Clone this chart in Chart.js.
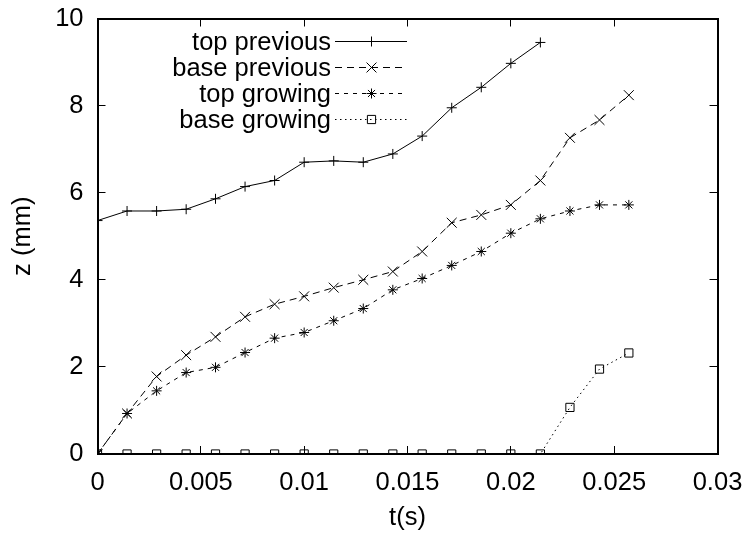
<!DOCTYPE html>
<html>
<head>
<meta charset="utf-8">
<script src="https://cdn.jsdelivr.net/npm/chart.js@4"></script>
<style>
  body { margin: 0; background: #fff; }
  canvas { display: block; }
</style>
</head>
<body>
<canvas id="zChart" width="747" height="537"></canvas>
<script>
// tempos (s) de cada quadro
const tempos = [0, 0.00143, 0.00286, 0.00429, 0.00571, 0.00714, 0.00857, 0.01, 0.01143, 0.01286,
                0.01429, 0.01571, 0.01714, 0.01857, 0.02, 0.02143, 0.02286, 0.02429, 0.02571];

// posições z (mm)
const topPrevious  = [5.36, 5.58, 5.58, 5.62, 5.86, 6.14, 6.28, 6.70, 6.73, 6.70, 6.89, 7.30, 7.95, 8.42, 8.97, 9.45];
const basePrevious = [0, 0.93, 1.78, 2.27, 2.69, 3.15, 3.44, 3.62, 3.82, 4.00, 4.19, 4.65, 5.31, 5.49, 5.72, 6.28, 7.26, 7.67, 8.24];
const topGrowing   = [0, 0.93, 1.45, 1.87, 1.99, 2.33, 2.66, 2.79, 3.06, 3.34, 3.77, 4.03, 4.33, 4.65, 5.07, 5.40, 5.58, 5.72, 5.72];
const baseGrowing  = [0, 0, 0, 0, 0, 0, 0, 0, 0, 0, 0, 0, 0, 0, 0, 0, 1.07, 1.95, 2.32];

const nomes = ['top previous', 'base previous', 'top growing', 'base growing'];
const xTicks = [0, 0.005, 0.01, 0.015, 0.02, 0.025, 0.03];
const yTicks = [0, 2, 4, 6, 8, 10];

const FONTE = 'Liberation Sans, Arial, sans-serif';
const TAM = 25.5;
const COR_EIXO = '#000';

function pares(valores) {
    return valores.map((v, i) => ({ x: tempos[i], y: v }));
}

function serie(label, valores, estilo, raio, dash) {
    return {
        label: label,
        data: pares(valores),
        borderColor: '#000',
        backgroundColor: 'transparent',
        borderWidth: 1,
        borderDash: dash,
        pointStyle: estilo,
        pointRadius: raio,
        pointBorderColor: '#000',
        pointBackgroundColor: 'transparent',
        pointBorderWidth: 1,
        showLine: true,
        tension: 0
    };
}

// marcas para dentro (estilo gnuplot) + borda da caixa
const gradeInterna = {
    display: true,
    drawOnChartArea: false,
    drawTicks: true,
    tickLength: -8,
    color: COR_EIXO,
    tickColor: COR_EIXO,
    lineWidth: 1,
    tickWidth: 1
};
const borda = { display: true, color: COR_EIXO, width: 2 };
const fonteEixo = { family: FONTE, size: TAM };

// legenda: texto alinhado à direita, amostra da linha à direita
const legendaGnuplot = {
    id: 'legendaGnuplot',
    afterDraw(chart) {
        const c = chart.ctx;
        const linhas = [41.5, 67.5, 93.5, 119.5];
        c.save();
        c.strokeStyle = '#000';
        c.lineWidth = 1;
        c.font = TAM + 'px ' + FONTE;
        c.textAlign = 'right';
        c.textBaseline = 'middle';
        chart.data.datasets.forEach((ds, i) => {
            const y = linhas[i];
            c.fillStyle = '#000';
            c.fillText(ds.label, 331, y + 1);
            c.beginPath();
            c.setLineDash(ds.borderDash || []);
            c.moveTo(335, y);
            c.lineTo(407, y);
            c.stroke();
            c.setLineDash([]);
            c.fillStyle = 'rgba(0,0,0,0)';
            Chart.helpers.drawPoint(c, {
                pointStyle: ds.pointStyle,
                radius: ds.pointRadius,
                borderWidth: 1
            }, 371.5, y);
        });
        c.restore();
    }
};

const ctx = document.getElementById('zChart').getContext('2d');
new Chart(ctx, {
    type: 'scatter',
    data: {
        datasets: [
            serie(nomes[0], topPrevious, 'cross', 5, []),
            serie(nomes[1], basePrevious, 'crossRot', 7, [7, 5]),
            serie(nomes[2], topGrowing, 'star', 5, [4, 5]),
            serie(nomes[3], baseGrowing, 'rect', 5.8, [1.5, 3.5])
        ]
    },
    options: {
        responsive: false,
        animation: false,
        layout: { padding: { top: 18.5, right: 29.5, left: 0, bottom: 0 } },
        plugins: {
            legend: { display: false },
            tooltip: { enabled: false }
        },
        scales: {
            x: {
                type: 'linear',
                position: 'bottom',
                min: 0,
                max: 0.03,
                afterFit: s => { s.height = 83; s.paddingLeft = 0; s.paddingRight = 0; },
                afterBuildTicks: s => { s.ticks = xTicks.map(v => ({ value: v })); },
                grid: gradeInterna,
                border: borda,
                ticks: {
                    color: '#000',
                    padding: 22,
                    maxRotation: 0,
                    font: fonteEixo,
                    callback: v => String(v)
                },
                title: {
                    display: true,
                    text: 't(s)',
                    color: '#000',
                    font: fonteEixo,
                    padding: { top: 8 }
                }
            },
            x2: {
                type: 'linear',
                position: 'top',
                min: 0,
                max: 0.03,
                afterFit: s => { s.height = 0; s.paddingLeft = 0; s.paddingRight = 0; },
                afterBuildTicks: s => { s.ticks = xTicks.map(v => ({ value: v })); },
                grid: gradeInterna,
                border: borda,
                ticks: { display: false }
            },
            y: {
                type: 'linear',
                position: 'left',
                min: 0,
                max: 10,
                afterFit: s => { s.width = 97.5; s.paddingTop = 0; s.paddingBottom = 0; },
                afterBuildTicks: s => { s.ticks = yTicks.map(v => ({ value: v })); },
                grid: gradeInterna,
                border: borda,
                ticks: {
                    color: '#000',
                    padding: 22,
                    font: fonteEixo
                },
                title: {
                    display: true,
                    text: 'z (mm)',
                    color: '#000',
                    font: fonteEixo,
                    padding: { top: 8, bottom: 0 }
                }
            },
            y2: {
                type: 'linear',
                position: 'right',
                min: 0,
                max: 10,
                afterFit: s => { s.width = 0; s.paddingTop = 0; s.paddingBottom = 0; },
                afterBuildTicks: s => { s.ticks = yTicks.map(v => ({ value: v })); },
                grid: gradeInterna,
                border: borda,
                ticks: { display: false }
            }
        }
    },
    plugins: [legendaGnuplot]
});
</script>
</body>
</html>
